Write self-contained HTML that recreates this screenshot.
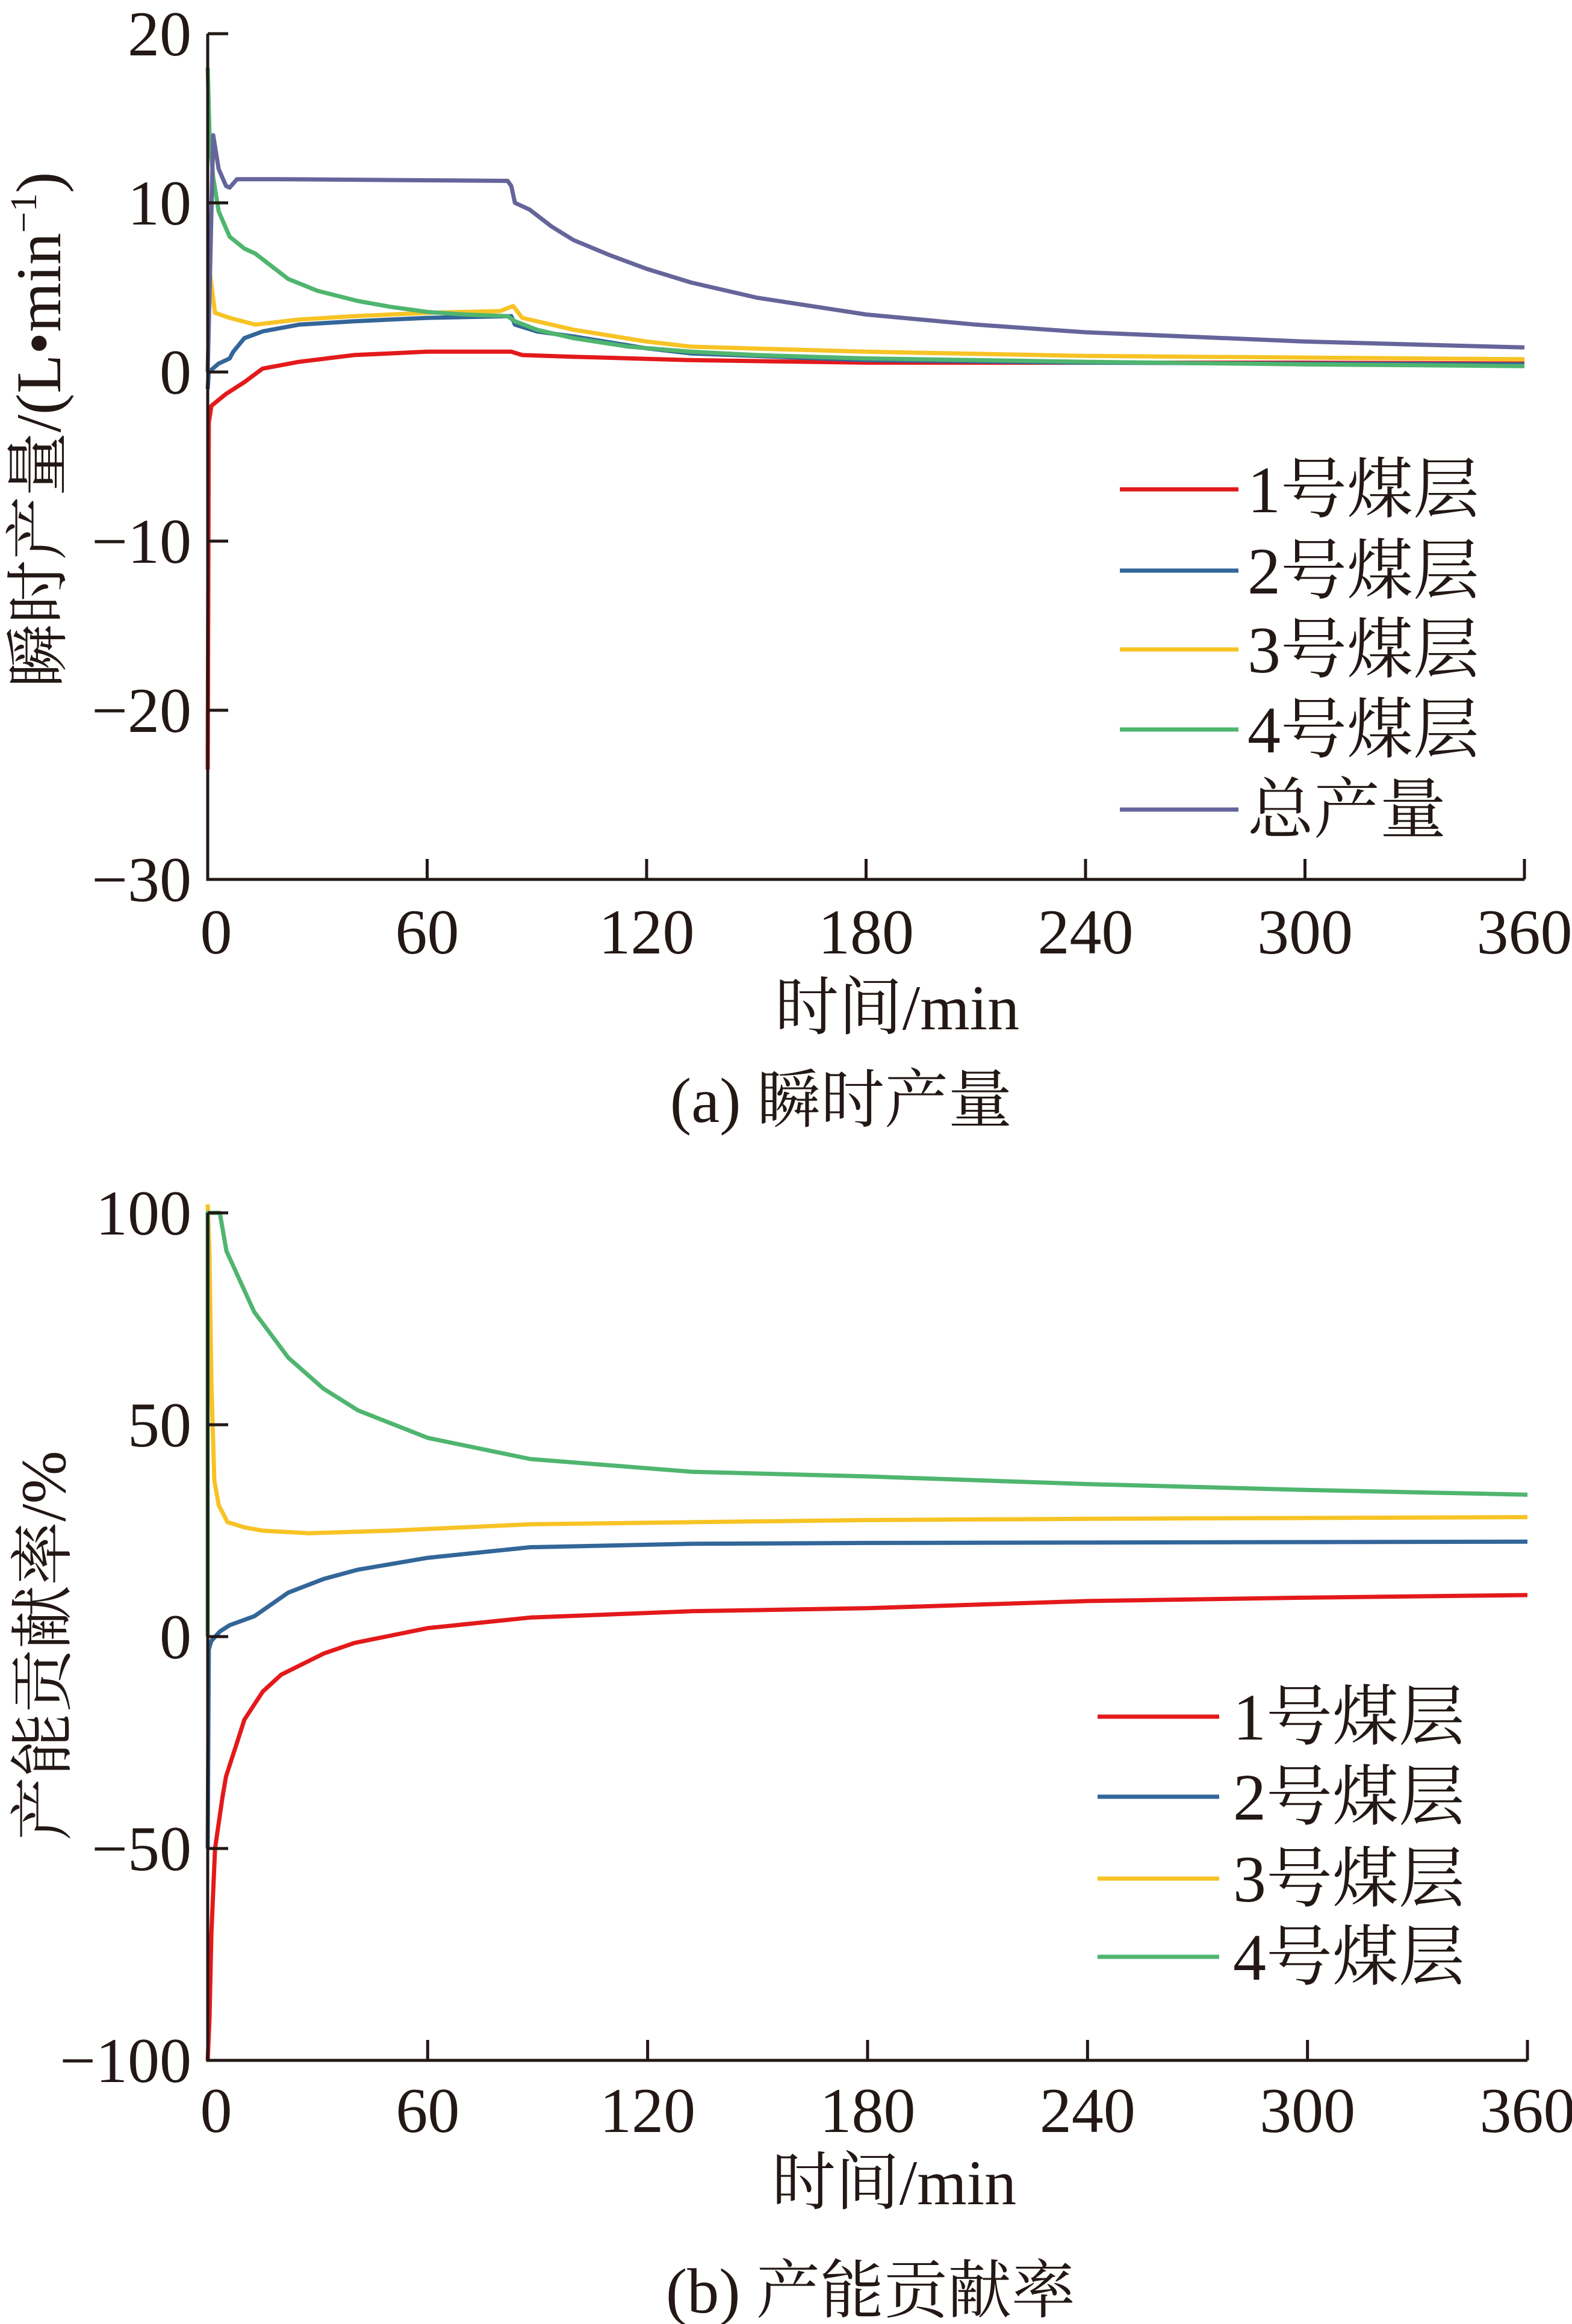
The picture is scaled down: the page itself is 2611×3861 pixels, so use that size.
<!DOCTYPE html>
<html><head><meta charset="utf-8">
<style>
html,body{margin:0;padding:0;background:#fff;}
svg{display:block;}
text{font-family:"Liberation Serif","Noto Serif CJK SC","Noto Sans CJK SC",serif;fill:#231815;}
</style></head>
<body>
<svg id="chart" width="2611" height="3861" viewBox="0 0 2611 3861" xmlns="http://www.w3.org/2000/svg">
<g id="top"></g>
<g id="bot"></g>
</svg>
<script>
// ---- Chart (a) data ----
const xTicks = [0, 60, 120, 180, 240, 300, 360];
const aYTicks = [20, 10, 0, -10, -20, -30];
const aNames = ["1号煤层", "2号煤层", "3号煤层", "4号煤层", "总产量"];
const aColors = ["#e3191b", "#336699", "#f7c325", "#4fb56f", "#65659b"];
const aRedT = [0, 0.3, 1, 5, 10, 15, 25, 40, 60, 83, 86, 100, 132, 180, 240, 300, 360];
const aRedV = [-23.5, -3, -2, -1.3, -0.6, 0.2, 0.6, 1.0, 1.2, 1.2, 1.0, 0.9, 0.7, 0.55, 0.55, 0.55, 0.5];
const aBlueT = [0, 0.3, 3, 6, 7, 10, 15, 25, 40, 60, 83, 84, 90, 100, 120, 132, 180, 240, 300, 360];
const aBlueV = [-1, 0, 0.5, 0.8, 1.2, 2.0, 2.4, 2.8, 3.0, 3.2, 3.3, 2.8, 2.4, 2.1, 1.4, 1.1, 0.7, 0.55, 0.5, 0.45];
const aYelT = [0, 0.5, 2, 6, 13, 25, 40, 60, 80, 83.5, 86, 100, 120, 132, 180, 240, 300, 360];
const aYelV = [6, 6, 3.5, 3.2, 2.8, 3.1, 3.3, 3.5, 3.6, 3.9, 3.2, 2.5, 1.8, 1.5, 1.2, 0.95, 0.85, 0.75];
const aGrnT = [0, 0.5, 1.5, 3, 6, 10, 13, 22, 30, 41, 50, 60, 70, 82, 84, 90, 100, 115, 132, 150, 180, 240, 300, 360];
const aGrnV = [18, 14, 11.5, 9.5, 8, 7.3, 7.0, 5.5, 4.8, 4.2, 3.85, 3.55, 3.4, 3.3, 3.0, 2.5, 2.0, 1.5, 1.2, 1.0, 0.8, 0.6, 0.45, 0.35];
const aTotT = [0, 1.5, 3, 5, 6, 8, 20, 50, 82, 83, 84, 88, 94, 100, 110, 120, 132, 150, 180, 210, 240, 300, 360];
const aTotV = [0, 14, 12, 11, 10.9, 11.4, 11.4, 11.35, 11.3, 11.0, 10.0, 9.6, 8.6, 7.8, 6.9, 6.1, 5.3, 4.4, 3.4, 2.8, 2.35, 1.8, 1.45];

// ---- Chart (b) data ----
const bYTicks = [100, 50, 0, -50, -100];
const bNames = ["1号煤层", "2号煤层", "3号煤层", "4号煤层"];
const bRedT = [0, 0.5, 1, 2, 4, 5, 8, 10, 15, 20, 31.6, 40, 60, 88, 132, 180, 240, 300, 360];
const bRedV = [-100, -90, -70, -50, -38, -33, -25, -19.6, -13, -9, -4, -1.5, 2.0, 4.5, 6.0, 6.7, 8.4, 9.2, 9.8];
const bBlueT = [0, 0.3, 1, 3.3, 6, 12.7, 22, 31.6, 41, 60, 88, 132, 180, 240, 300, 360];
const bBlueV = [-50, -3, -1, 1.2, 2.7, 4.8, 10.4, 13.6, 15.8, 18.6, 21.1, 21.9, 22.1, 22.2, 22.3, 22.4];
const bYelT = [0, 0.5, 1, 1.8, 3, 5.4, 10, 15, 27.5, 50, 88, 132, 180, 240, 300, 360];
const bYelV = [102, 90, 60, 36.8, 31, 27, 25.8, 25, 24.4, 25, 26.5, 27, 27.5, 27.8, 28, 28.2];
const bGrnT = [0, 0, 3.3, 5.1, 12.7, 22, 31.6, 41, 60, 88, 132, 180, 240, 300, 360];
const bGrnV = [0, 100, 100, 91, 76.6, 65.8, 58.5, 53.4, 46.9, 41.9, 38.9, 37.8, 36, 34.6, 33.5];

const NS = "http://www.w3.org/2000/svg";
function mk(parent, tag, attrs, txt) {
  const e = document.createElementNS(NS, tag);
  for (const k in attrs) e.setAttribute(k, attrs[k]);
  if (txt !== undefined) e.textContent = txt;
  parent.appendChild(e);
  return e;
}
function fmt(v) { return v < 0 ? "\u2212" + Math.abs(v) : String(v); }

function drawChart(g, cfg) {
  const X = t => cfg.x0 + (t / 360) * (cfg.x1 - cfg.x0);
  const Y = v => cfg.yTop + (cfg.vMax - v) / (cfg.vMax - cfg.vMin) * (cfg.yBot - cfg.yTop);
  cfg.series.forEach((s, i) => {
    let d = "";
    s.t.forEach((t, j) => { d += (j ? "L" : "M") + X(t).toFixed(1) + " " + Y(s.v[j]).toFixed(1); });
    const p = mk(g, "path", {d: d, fill: "none", stroke: s.c, "stroke-width": 7, "stroke-linejoin": "round"});
    
    
  });
  const ax = mk(g, "path", {d: `M${cfg.x0} ${cfg.yTop}V${cfg.yBot}H${cfg.x1}`, fill: "none", stroke: "#231815", "stroke-width": 5});
  
  
  cfg.yTicks.forEach(v => {
    const y = Y(v);
    const tk = mk(g, "line", {x1: cfg.x0, x2: cfg.x0 + 34, y1: y, y2: y, stroke: "#231815", "stroke-width": 5});
    
    
    const lb = mk(g, "text", {x: 318, y: y + 36, "font-size": 106, "text-anchor": "end"}, fmt(v));
    
    
  });
  xTicks.forEach(t => {
    const x = X(t);
    const tk = mk(g, "line", {x1: x, x2: x, y1: cfg.yBot, y2: cfg.yBot - 34, stroke: "#231815", "stroke-width": 5});
    
    
    const lb = mk(g, "text", {x: x + (t === 0 ? 14 : 0), y: cfg.xLabY, "font-size": 106, "text-anchor": "middle"}, String(t));
    
    
  });
  const xt = mk(g, "text", {x: cfg.xTitleX, y: cfg.xTitleY, "font-size": 106, "text-anchor": "middle"}, "时间/min");
  
  
  const yt = mk(g, "text", {x: 0, y: 0, "font-size": 106, "text-anchor": "middle", transform: `translate(${cfg.yTitleX},${cfg.yTitleY}) rotate(-90)`});
  yt.innerHTML = cfg.yTitle;
  
  
  const cp = mk(g, "text", {x: cfg.capX, y: cfg.capY, "font-size": 106, "text-anchor": "middle"}, cfg.caption);
  
  
  cfg.series.forEach((s, i) => {
    const y = cfg.legY[i];
    const lg = mk(g, "g", {});
    
    
    mk(lg, "line", {x1: cfg.legX0, x2: cfg.legX1, y1: y, y2: y, stroke: s.c, "stroke-width": 7});
    mk(lg, "text", {x: cfg.legTx, y: y + 38, "font-size": 110}, s.n);
  });
}

drawChart(document.getElementById("top"), {
  x0: 345, x1: 2532, yTop: 56, yBot: 1461, vMax: 20, vMin: -30,
  yTicks: aYTicks, xLabY: 1584, xTitleX: 1490, xTitleY: 1710, capX: 1397, capY: 1864,
  yTitleX: 100, yTitleY: 714, yTitle: '瞬时产量/(L•min<tspan font-size="62" dy="-40">−1</tspan><tspan dy="40">)</tspan>',
  caption: "(a) 瞬时产量",
  legX0: 1860, legX1: 2057, legTx: 2072, legY: [813, 948, 1079, 1212, 1345],
  series: [
    {t: aRedT, v: aRedV, c: aColors[0], n: aNames[0]},
    {t: aBlueT, v: aBlueV, c: aColors[1], n: aNames[1]},
    {t: aYelT, v: aYelV, c: aColors[2], n: aNames[2]},
    {t: aGrnT, v: aGrnV, c: aColors[3], n: aNames[3]},
    {t: aTotT, v: aTotV, c: aColors[4], n: aNames[4]}
  ]
});
drawChart(document.getElementById("bot"), {
  x0: 345, x1: 2537, yTop: 2015, yBot: 3423, vMax: 100, vMin: -100,
  yTicks: bYTicks, xLabY: 3542, xTitleX: 1485, xTitleY: 3662, capX: 1446, capY: 3842,
  yTitleX: 108, yTitleY: 2734, yTitle: '产能贡献率/%',
  caption: "(b) 产能贡献率",
  legX0: 1823, legX1: 2025, legTx: 2048, legY: [2852, 2985, 3121, 3251],
  series: [
    {t: bRedT, v: bRedV, c: aColors[0], n: bNames[0]},
    {t: bBlueT, v: bBlueV, c: aColors[1], n: bNames[1]},
    {t: bYelT, v: bYelV, c: aColors[2], n: bNames[2]},
    {t: bGrnT, v: bGrnV, c: aColors[3], n: bNames[3]}
  ]
});
</script>
</body></html>
